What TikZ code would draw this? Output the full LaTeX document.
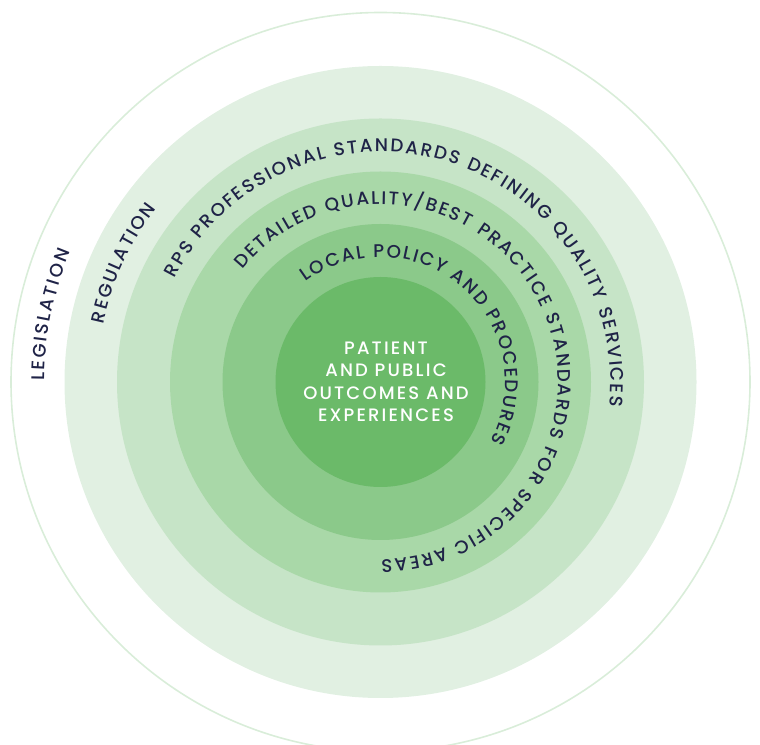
\documentclass[tikz,border=0pt]{standalone}
\usepackage{fontspec}
\setmainfont{Poppins}
\newfontfamily\ringfont{Poppins Medium}
\newfontfamily\corefont[LetterSpace=12]{Poppins Medium}
\usetikzlibrary{decorations.text}

\definecolor{ink}{HTML}{1F2347}
\definecolor{rimline}{HTML}{D9EDD9}
\definecolor{ringA}{HTML}{E1F0E2}
\definecolor{ringB}{HTML}{C6E4C7}
\definecolor{ringC}{HTML}{A9D8A8}
\definecolor{ringD}{HTML}{8BC98A}
\definecolor{ringE}{HTML}{6BBA69}

% text set along an arc around the common centre (c):
% #1 start angle, #2 end angle (clockwise), #3 baseline radius, #4 text
\newcommand\ringlabel[4]{%
  \path[ringtext, decoration={text={|\ringfont\fontsize{18.3}{20}\selectfont|#4}}]
    (c) ++(#1:#3) arc[start angle=#1, end angle=#2, radius=#3];}

\begin{document}
\begin{tikzpicture}[x=1pt, y=1pt,
  ringtext/.style={decorate, decoration={text along path,
      text align={fit to path}, text color=ink}},
  rim/.style={draw=rimline, line width=1.6pt},
  coretext/.style={text=white, align=center, inner sep=0pt,
      font=\corefont\fontsize{18}{22.5}\selectfont}]
\useasboundingbox (0,0) rectangle (760,744);
\clip (0,0) rectangle (760,744);

\coordinate (c) at (380.5,362);

% concentric rings, outermost first
\draw[rim] (c) circle[radius=369.5];
\fill[ringA] (c) circle[radius=316];
\fill[ringB] (c) circle[radius=263.5];
\fill[ringC] (c) circle[radius=210.5];
\fill[ringD] (c) circle[radius=158];
\fill[ringE] (c) circle[radius=105];

% labels running clockwise inside each band
\ringlabel{179.7}{157.2}{336.1}{LEGISLATION}
\ringlabel{168.2}{142.2}{283.1}{REGULATION}
\ringlabel{153.3}{-6.1}{230.1}{RPS PROFESSIONAL STANDARDS DEFINING QUALITY SERVICES}
\ringlabel{140.9}{-89.8}{177.6}{DETAILED QUALITY/BEST PRACTICE STANDARDS FOR SPECIFIC AREAS}
\ringlabel{126.7}{-28.6}{124.9}{LOCAL POLICY AND PROCEDURES}

% centre statement
\node[coretext] (core) at (386,362.3)
  {PATIENT\\AND PUBLIC\\OUTCOMES AND\\EXPERIENCES};
\end{tikzpicture}
\end{document}
